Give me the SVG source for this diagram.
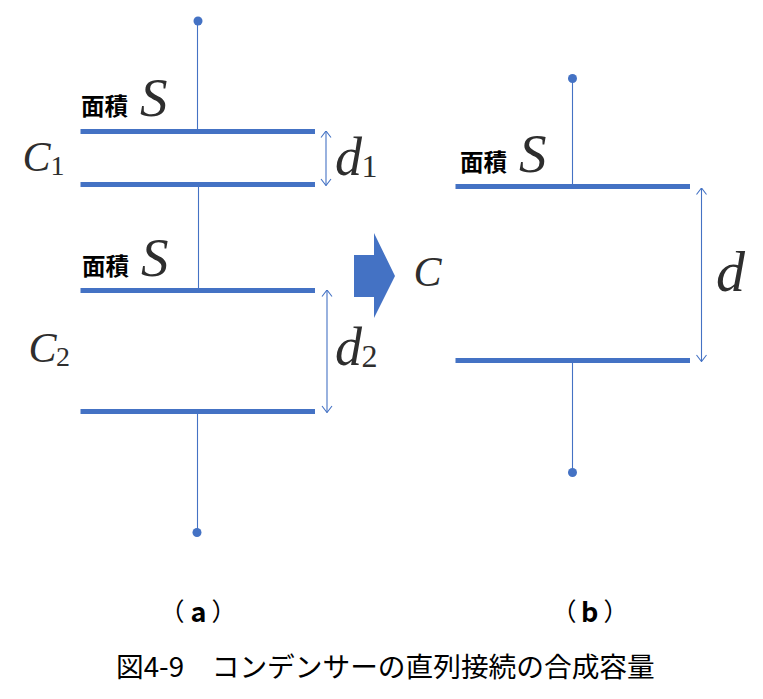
<svg xmlns="http://www.w3.org/2000/svg" width="763" height="699" viewBox="0 0 763 699">
<style>
.wire{stroke:#4472c4;stroke-width:1.1;fill:none}
.plate{stroke:#4472c4;stroke-width:5;fill:none}
.dim{stroke:#4472c4;stroke-width:1.1;fill:none;marker-start:url(#a);marker-end:url(#a)}
.dot{fill:#4472c4}
.jp{font-family:"Noto Sans CJK JP","Noto Sans",sans-serif;fill:#000}
.b{font-weight:700;font-size:23.500px}
.p{font-size:25px}
.l{font-size:27px;font-weight:700}
.m{font-family:"Liberation Serif",serif;font-style:italic;fill:#2e2e2e}
.n{font-family:"Liberation Serif",serif;fill:#2e2e2e}
</style>
<defs>
<marker id="a" viewBox="0 0 10 12" refX="9.500" refY="6" markerWidth="10" markerHeight="12" markerUnits="userSpaceOnUse" orient="auto-start-reverse">
<path d="M3 1 L9.500 6 L3 11" fill="none" stroke="#4472c4" stroke-width="1.1"/>
</marker>
</defs>
<rect width="763" height="699" fill="#fff"/>
<g id="connectors">
<line class="wire" x1="197.500" y1="21" x2="197.500" y2="131"/>
<line class="wire" x1="198.500" y1="184" x2="198.500" y2="290"/>
<line class="wire" x1="197.500" y1="411" x2="197.500" y2="532"/>
<line class="wire" x1="572.500" y1="78" x2="572.500" y2="186"/>
<line class="wire" x1="572.500" y1="360" x2="572.500" y2="472"/>
<line class="dim" x1="326" y1="131" x2="326" y2="185.500"/>
<line class="dim" x1="327" y1="290" x2="327" y2="412.500"/>
<line class="dim" x1="701.500" y1="188" x2="701.500" y2="361.500"/>
</g>
<g id="terminal-a-top"><circle class="dot" cx="198" cy="21" r="4.500"/></g>
<g id="terminal-a-bottom"><circle class="dot" cx="197" cy="532.500" r="4.500"/></g>
<g id="terminal-b-top"><circle class="dot" cx="572.500" cy="78.500" r="4.500"/></g>
<g id="terminal-b-bottom"><circle class="dot" cx="572.500" cy="472.500" r="4.500"/></g>
<g id="capacitor-c1">
<line class="plate" x1="80.500" y1="131.500" x2="315" y2="131.500"/>
<line class="plate" x1="80.500" y1="184.500" x2="315" y2="184.500"/>
<text class="jp b" x="81" y="114.500">面積</text>
<text class="m" x="140" y="115.500" font-size="55">S</text>
<text class="m" x="22.500" y="171" font-size="42">C</text>
<text class="n" x="50.500" y="175" font-size="28">1</text>
<text class="m" x="335" y="175" font-size="54">d</text>
<text class="n" x="361.500" y="177" font-size="32">1</text>
</g>
<g id="capacitor-c2">
<line class="plate" x1="80.500" y1="290.500" x2="315" y2="290.500"/>
<line class="plate" x1="80.500" y1="411.500" x2="315" y2="411.500"/>
<text class="jp b" x="82" y="274.500">面積</text>
<text class="m" x="141" y="275.500" font-size="55">S</text>
<text class="m" x="28.500" y="362" font-size="42">C</text>
<text class="n" x="56" y="366" font-size="28">2</text>
<text class="m" x="335" y="365" font-size="54">d</text>
<text class="n" x="361.500" y="367" font-size="32">2</text>
</g>
<g id="arrow"><polygon points="354,255 374,255 374,233 395,276 374,318 374,297 354,297" fill="#4472c4"/></g>
<g id="capacitor-c">
<line class="plate" x1="455.500" y1="186.500" x2="690" y2="186.500"/>
<line class="plate" x1="455.500" y1="360.500" x2="690" y2="360.500"/>
<text class="jp b" x="460" y="170.500">面積</text>
<text class="m" x="519" y="171.500" font-size="55">S</text>
<text class="m" x="413.500" y="286" font-size="42">C</text>
<text class="m" x="716" y="291" font-size="58">d</text>
</g>
<g id="labels">
<text class="jp p" x="159.500" y="621">（</text>
<text class="jp l" x="190.500" y="622">a</text>
<text class="jp p" x="211.500" y="621">）</text>
<text class="jp p" x="551.500" y="621">（</text>
<text class="jp l" x="581" y="622">b</text>
<text class="jp p" x="603.500" y="621">）</text>
<text class="jp" x="116" y="677" font-size="27.700">図4-9　コンデンサーの直列接続の合成容量</text>
</g>
</svg>
